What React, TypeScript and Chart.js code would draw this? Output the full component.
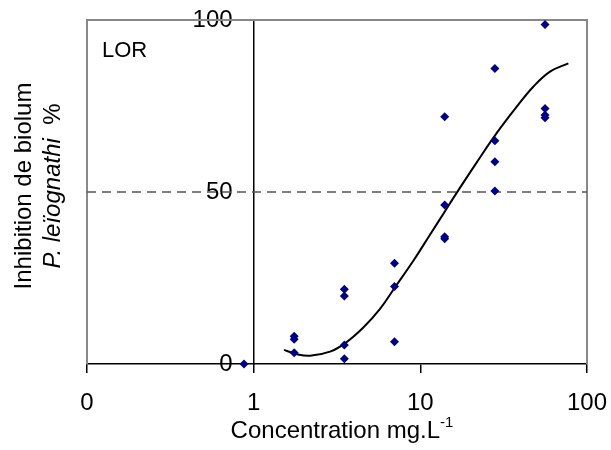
import React, { useEffect, useRef } from 'react';
import { Chart, registerables } from 'chart.js';
Chart.register(...registerables);

// Measured data (concentration mg/L, inhibition %)
const concentration = [0.875, 1.75, 1.75, 1.75, 3.5, 3.5, 3.5, 3.5, 7, 7, 7, 14, 14, 14, 14, 28, 28, 28, 28, 56, 56, 56, 56];
const inhibition = [0, 8.1, 7.2, 3.3, 21.7, 19.8, 5.5, 1.5, 29.3, 22.5, 6.5, 71.9, 46.2, 37.0, 36.4, 85.9, 64.9, 58.8, 50.3, 98.7, 74.3, 72.4, 71.6];

// Fitted curve
const fitConcentration = [1.52, 1.8, 2.18, 2.87, 3.53, 4.55, 5.73, 7.05, 9.08, 11.4, 14.06, 15.8, 21.8, 28.7, 37.9, 47.6, 60.0, 77.3];
const fitInhibition = [4.1, 2.9, 2.4, 3.6, 6.0, 10.6, 16.0, 22.3, 30.0, 37.5, 44.4, 48.3, 58.6, 67.1, 74.8, 80.6, 85.0, 87.4];

// 50 % reference line
const thresholdX = [0.1, 100];
const thresholdY = [50, 50];

// Ticks
const xTicks = [0.1, 1, 10, 100];
const xTickLabels = ['0', '1', '10', '100'];
const yTicks = [0, 50, 100];

const FONT = '"Liberation Sans", Arial, sans-serif';
const Y_LABEL_GAP = 21;

const decor = {
  id: 'decor',
  beforeDraw(chart: any) {
    // move the y tick labels away from the crossing axis line
    const y = chart.scales.y;
    const items = y.getLabelItems();
    if (items && !items.__shifted) {
      items.forEach((it: any) => {
        it.options.translation[0] -= Y_LABEL_GAP;
        if (it.options.backdrop) it.options.backdrop.left -= Y_LABEL_GAP;
      });
      items.__shifted = true;
    }
  },
  beforeDatasetsDraw(chart: any) {
    const { ctx, chartArea } = chart;
    const { left, right, top, bottom } = chartArea;
    ctx.save();
    ctx.strokeStyle = '#888';
    ctx.lineWidth = 2;
    ctx.beginPath();
    ctx.moveTo(left, bottom);
    ctx.lineTo(left, top);
    ctx.lineTo(right, top);
    ctx.lineTo(right, bottom);
    ctx.stroke();
    ctx.restore();
  },
  afterDraw(chart: any) {
    const { ctx, chartArea } = chart;
    const { left, right, top, bottom } = chartArea;
    ctx.save();
    ctx.fillStyle = '#000';
    ctx.textBaseline = 'alphabetic';

    // LOR label
    ctx.font = `22px ${FONT}`;
    ctx.textAlign = 'left';
    ctx.fillText('LOR', left + 15, top + 37);

    // Y title (two lines, rotated)
    const cy = (top + bottom) / 2 - 6;
    ctx.translate(31, cy);
    ctx.rotate(-Math.PI / 2);
    ctx.font = `24px ${FONT}`;
    ctx.textAlign = 'center';
    ctx.fillText('Inhibition de biolum', 0, 0);
    ctx.textAlign = 'left';
    ctx.font = `italic 24px ${FONT}`;
    const part1 = 'P. leïognathi';
    const w1 = ctx.measureText(part1).width;
    ctx.font = `24px ${FONT}`;
    const part2 = '  %';
    const w2 = ctx.measureText(part2).width;
    const start = -(w1 + w2) / 2;
    ctx.font = `italic 24px ${FONT}`;
    ctx.fillText(part1, start, 29);
    ctx.font = `24px ${FONT}`;
    ctx.fillText(part2, start + w1, 29);
    ctx.setTransform(1, 0, 0, 1, 0, 0);

    // X title with superscript
    const main = 'Concentration mg.L';
    const sup = '-1';
    ctx.font = `24px ${FONT}`;
    const wm = ctx.measureText(main).width;
    ctx.font = `15px ${FONT}`;
    const ws = ctx.measureText(sup).width;
    const cx = (left + right) / 2 + 5;
    const x0 = cx - (wm + ws) / 2;
    ctx.font = `24px ${FONT}`;
    ctx.textAlign = 'left';
    ctx.fillText(main, x0, 438);
    ctx.font = `15px ${FONT}`;
    ctx.fillText(sup, x0 + wm, 427);
    ctx.restore();
  },
};

export default function App() {
  const ref = useRef<HTMLCanvasElement | null>(null);

  useEffect(() => {
    document.body.style.margin = '0';
    if (!ref.current) return;
    const chart = new Chart(ref.current, {
      type: 'scatter',
      data: {
        datasets: [
          {
            label: 'data',
            data: concentration.map((c, i) => ({ x: c, y: inhibition[i] })),
            pointStyle: 'rectRot',
            pointRadius: 4.5,
            pointBackgroundColor: '#000080',
            pointBorderColor: '#000080',
            pointBorderWidth: 0,
            showLine: false,
            clip: 6,
          },
          {
            label: 'fit',
            data: fitConcentration.map((c, i) => ({ x: c, y: fitInhibition[i] })),
            showLine: true,
            pointRadius: 0,
            borderColor: '#000',
            borderWidth: 2,
            tension: 0.4,
          },
          {
            label: 'threshold',
            data: thresholdX.map((c, i) => ({ x: c, y: thresholdY[i] })),
            showLine: true,
            pointRadius: 0,
            borderColor: '#555',
            borderWidth: 1.5,
            borderDash: [9, 6],
          },
        ],
      } as any,
      options: {
        animation: false,
        responsive: true,
        maintainAspectRatio: false,
        layout: { padding: { left: 87, right: 24, top: 20, bottom: 0 } },
        plugins: { legend: { display: false }, tooltip: { enabled: false } },
        scales: {
          x: {
            type: 'logarithmic',
            position: 'bottom',
            min: 0.1,
            max: 100,
            afterBuildTicks: (s: any) => {
              s.ticks = xTicks.map((v) => ({ value: v }));
            },
            afterFit: (s: any) => {
              s.height = 86;
              s.paddingLeft = 0;
              s.paddingRight = 0;
              s.paddingTop = 0;
              s.paddingBottom = 0;
            },
            ticks: {
              autoSkip: false,
              maxRotation: 0,
              font: { family: FONT, size: 24 },
              color: '#000',
              padding: 16,
              callback: (v: any) => {
                const i = xTicks.indexOf(Number(v));
                return i >= 0 ? xTickLabels[i] : '';
              },
            },
            grid: { display: true, drawOnChartArea: false, drawTicks: true, tickLength: 9, color: '#000', lineWidth: 1.5 },
            border: { display: true, color: '#000', width: 1.5 },
          },
          y: {
            type: 'linear',
            min: 0,
            max: 100,
            position: { x: 1 } as any,
            z: 1,
            afterBuildTicks: (s: any) => {
              s.ticks = yTicks.map((v) => ({ value: v }));
            },
            afterFit: (s: any) => {
              s.paddingLeft = 0;
              s.paddingRight = 0;
              s.paddingTop = 0;
              s.paddingBottom = 0;
            },
            ticks: {
              font: { family: FONT, size: 24 },
              color: '#000',
              padding: 0,
              showLabelBackdrop: true,
              backdropColor: (c: any) => (c.tick && c.tick.value === 50 ? '#fff' : 'rgba(0,0,0,0)'),
              backdropPadding: { left: 2, right: 2, top: 0, bottom: 0 },
            },
            grid: { display: false, drawTicks: false },
            border: { display: true, color: '#000', width: 1.5 },
          },
        },
      } as any,
      plugins: [decor],
    });
    return () => chart.destroy();
  }, []);

  return (
    <div style={{ position: 'relative', width: 611, height: 450 }}>
      <canvas ref={ref} />
    </div>
  );
}
